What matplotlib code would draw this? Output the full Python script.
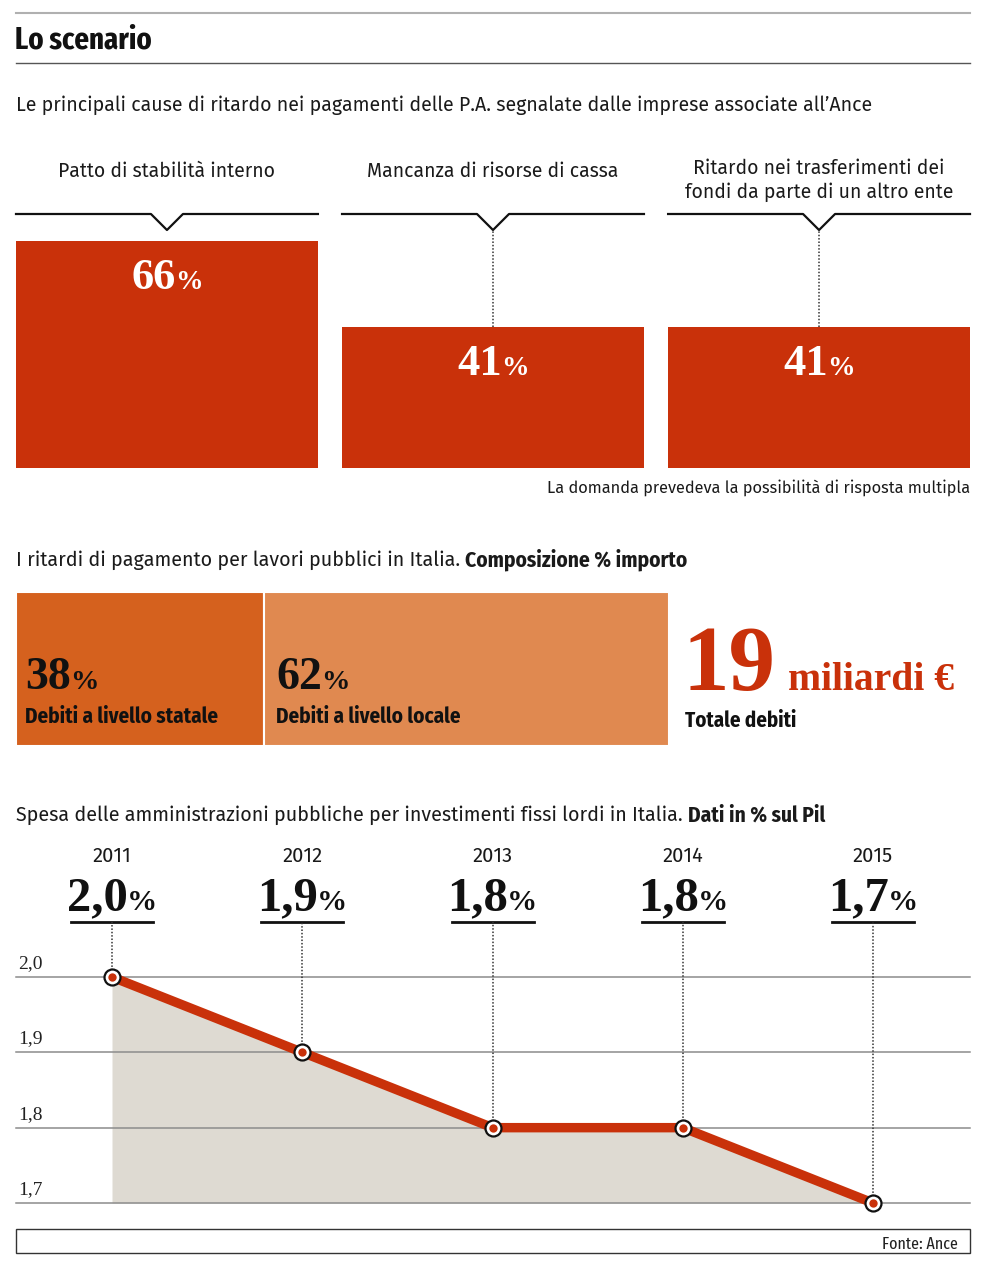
import matplotlib
matplotlib.use("Agg")
import matplotlib.pyplot as plt
from matplotlib import transforms
from matplotlib.patches import Rectangle

W, H = 987, 1272

# --- data -------------------------------------------------------------
cause_labels = ["Patto di stabilità interno",
                "Mancanza di risorse di cassa",
                "Ritardo nei trasferimenti dei\nfondi da parte di un altro ente"]
cause_values = [66, 41, 41]

debt_labels = ["Debiti a livello statale", "Debiti a livello locale"]
debt_shares = [38, 62]
debt_total = 19

years = [2011, 2012, 2013, 2014, 2015]
invest_pct = [2.0, 1.9, 1.8, 1.8, 1.7]
invest_ticks = [2.0, 1.9, 1.8, 1.7]

# --- style ------------------------------------------------------------
RED = "#c9310a"
DARK_ORANGE = "#d5611e"
LIGHT_ORANGE = "#e08950"
FILL = "#dedad2"
GRID = "#8c8c8c"
DOTS = (0, (1, 1.2))

SANS = ["Fira Sans", "Open Sans", "DejaVu Sans"]
NARROW = ["Fira Sans Condensed", "Asap Condensed", "Lato", "DejaVu Sans"]
XNARROW = ["Fira Sans Extra Condensed"] + NARROW
SERIF = ["Liberation Serif", "DejaVu Serif"]

fig = plt.figure(figsize=(W / 100, H / 100), dpi=100)
renderer = fig.canvas.get_renderer()


def box(left, top, right, bottom):
    """pixel box (y downwards) -> figure fraction rect"""
    return [left / W, 1 - bottom / H, (right - left) / W, (bottom - top) / H]


def data_y(ax, px):
    """figure pixel row -> data y of ax"""
    return ax.transData.inverted().transform((0, H - px))[1]


def pct_text(ax, x, y, num, size, color, transform, ha="center", pct_scale=0.62, gap=-1):
    """big serif number followed by a smaller %"""
    kw = dict(family=SERIF, fontweight="bold", color=color, va="baseline",
              ha="left", transform=transform)
    t1 = ax.text(x, y, num, fontsize=size, **kw)
    t2 = ax.text(x, y, "%", fontsize=size * pct_scale, **kw)
    w1 = t1.get_window_extent(renderer).width
    w2 = t2.get_window_extent(renderer).width
    shift = -(w1 + w2 + gap) / 2 if ha == "center" else 0
    t1.set_transform(transforms.offset_copy(transform, fig, x=shift, y=0, units="dots"))
    t2.set_transform(transforms.offset_copy(transform, fig, x=shift + w1 + gap, y=0,
                                            units="dots"))


def two_part(ax, x, y, plain, bold, size, bold_size):
    t1 = ax.text(x, y, plain, fontsize=size, family=SANS, color="#1a1a1a", va="center")
    w = t1.get_window_extent(renderer).width
    ax.text(x + w + 5, y, bold, fontsize=bold_size, family=NARROW, fontweight="bold",
            color="#1a1a1a", va="center")


# overlay in pixel coordinates for headings and rules
ax0 = fig.add_axes([0, 0, 1, 1])
ax0.set_xlim(0, W)
ax0.set_ylim(H, 0)
ax0.axis("off")

ax0.plot([16, 970], [13, 13], color="#b0b0b0", lw=1.5)
ax0.text(15, 40, "Lo scenario", fontsize=22.5, family=XNARROW,
         fontweight="bold", color="#111", va="center")
ax0.plot([16, 970], [63, 63], color="#555", lw=1)
ax0.text(16, 105, "Le principali cause di ritardo nei pagamenti delle P.A. segnalate "
         "dalle imprese associate all\u2019Ance", fontsize=14.1, family=SANS,
         color="#1a1a1a", va="center")

# --- section 1: bars --------------------------------------------------
ax1 = fig.add_axes(box(16, 241, 970, 468))
ax1.bar(range(len(cause_values)), cause_values, width=0.926, color=RED)
ax1.set_xlim(-0.463, len(cause_values) - 1 + 0.463)
ax1.set_ylim(0, max(cause_values))
ax1.axis("off")

y_line = data_y(ax1, 214)
y_tip = data_y(ax1, 230)
y_head = data_y(ax1, 171)
y_head2 = data_y(ax1, 158)
lab_drop = max(cause_values) - data_y(ax1, 241 + 48)
notch = 16 / 326
for i, (lab, v) in enumerate(zip(cause_labels, cause_values)):
    ax1.plot([i - 0.463, i - notch, i, i + notch, i + 0.463],
             [y_line, y_line, y_tip, y_line, y_line],
             color="#111", lw=1.6, clip_on=False)
    if v < max(cause_values):
        ax1.plot([i, i], [v, y_tip], color="#333", lw=1.1, ls=DOTS, clip_on=False)
    two_lines = "\n" in lab
    ax1.text(i, y_head2 if two_lines else y_head, lab, ha="center",
             va="top" if two_lines else "center", fontsize=14, family=SANS,
             color="#1a1a1a", linespacing=1.28, clip_on=False)
    pct_text(ax1, i, v - lab_drop, str(v), 32, "white", ax1.transData)

ax0.text(970, 488, "La domanda prevedeva la possibilità di risposta multipla",
         fontsize=11.8, family=SANS, color="#1a1a1a", ha="right", va="center")

# --- section 2: composition -------------------------------------------
two_part(ax0, 16, 560, "I ritardi di pagamento per lavori pubblici in Italia.",
         "Composizione % importo", 14.2, 15.4)

ax2 = fig.add_axes(box(16, 592, 669, 746))
lefts = [sum(debt_shares[:k]) for k in range(len(debt_shares))]
ax2.barh([0] * len(debt_shares), debt_shares, left=lefts, height=1,
         color=[DARK_ORANGE, LIGHT_ORANGE], edgecolor="white", linewidth=1.5)
ax2.set_xlim(0, sum(debt_shares))
ax2.set_ylim(-0.5, 0.5)
ax2.axis("off")
blend = transforms.blended_transform_factory(ax2.transData, ax2.transAxes)
for k, (left, share, lab) in enumerate(zip(lefts, debt_shares, debt_labels)):
    tr = transforms.offset_copy(blend, fig, x=9 + 3 * k, y=0, units="dots")
    pct_text(ax2, left, (746 - 689) / 154, str(share), 33, "#111", tr, ha="left")
    ax2.text(left, (746 - 717) / 154, lab, transform=tr, fontsize=15.2, family=NARROW,
             fontweight="bold", color="#111", va="center")

t19 = ax0.text(683, 690, str(debt_total), fontsize=67, family=SERIF, fontweight="bold",
               color=RED, va="baseline")
w19 = t19.get_window_extent(renderer).width
ax0.text(683 + w19 + 12, 690, "miliardi €", fontsize=28.5, family=SERIF,
         fontweight="bold", color=RED, va="baseline")
ax0.text(685, 721, "Totale debiti", fontsize=15, family=NARROW, fontweight="bold",
         color="#111", va="center")

# --- section 3: line chart --------------------------------------------
two_part(ax0, 16, 815, "Spesa delle amministrazioni pubbliche per investimenti fissi "
         "lordi in Italia.", "Dati in % sul Pil", 14.2, 15.4)

ax3 = fig.add_axes(box(16, 977, 970, 1203))
ax3.set_xlim(years[0] - 96 / 190.25, years[-1] + 97 / 190.25)
ax3.set_ylim(min(invest_ticks), max(invest_ticks))
ax3.axis("off")

ax3.fill_between(years, invest_pct, min(invest_ticks), color=FILL, lw=0, zorder=1)
tick_tr = transforms.offset_copy(ax3.get_yaxis_transform(), fig, x=0, y=5, units="dots")
for t in invest_ticks:
    ax3.axhline(t, color=GRID, lw=1.1, zorder=2, clip_on=False)
    ax3.text(0.002, t, f"{t:.1f}".replace(".", ","), transform=tick_tr,
             fontsize=14, family=SERIF, color="#222", va="bottom", clip_on=False)

ax3.plot(years, invest_pct, color=RED, lw=6.8, solid_capstyle="butt", zorder=3,
         clip_on=False)
ax3.plot(years, invest_pct, "o", ms=11.5, mfc="white", mec="#111", mew=1.6, zorder=4,
         clip_on=False)
ax3.plot(years, invest_pct, "o", ms=6, mfc=RED, mec="none", zorder=5, clip_on=False)

y_under = data_y(ax3, 922)
y_value = data_y(ax3, 910)
y_year = data_y(ax3, 856)
half = 41 / 190.25
for yr, v in zip(years, invest_pct):
    ax3.plot([yr, yr], [v, y_under], color="#333", lw=1.1, ls=DOTS, zorder=2.5,
             clip_on=False)
    ax3.plot([yr - half, yr + half], [y_under, y_under], color="#111", lw=2, clip_on=False)
    ax3.text(yr, y_year, str(yr), ha="center", va="center", fontsize=14.5, family=SANS,
             color="#1a1a1a", clip_on=False)
    pct_text(ax3, yr, y_value, f"{v:.1f}".replace(".", ","), 35, "#111", ax3.transData)

# --- source -----------------------------------------------------------
ax0.add_patch(Rectangle((16, 1229), 954, 24, fill=False, edgecolor="#333", lw=1))
ax0.text(958, 1244, "Fonte: Ance", ha="right", va="center", fontsize=12.5,
         family=XNARROW, color="#222")

fig.savefig("out.png", dpi=100)
